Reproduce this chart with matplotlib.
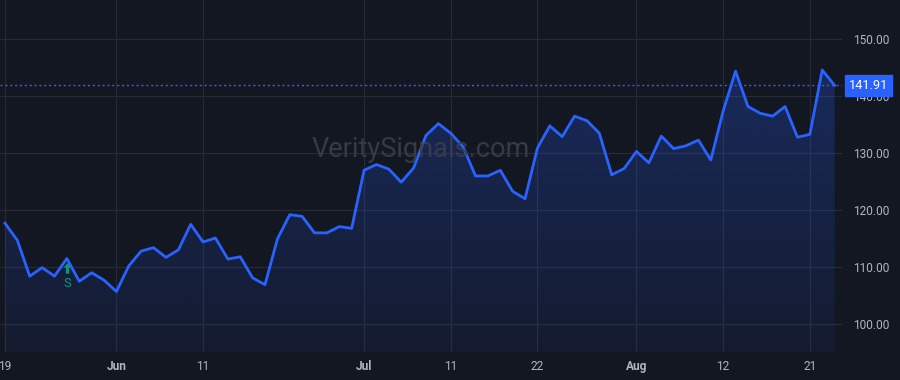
import numpy as np
import matplotlib
matplotlib.use("Agg")
import matplotlib.pyplot as plt
from matplotlib.path import Path

plt.rcParams["font.family"] = ["Roboto", "DejaVu Sans"]

# closing prices, one per trading day (19 May .. 25 Aug)
prices = [117.7, 114.7, 108.4, 109.9, 108.4, 111.5, 107.5, 109.0, 107.7, 105.7,
          110.2, 112.8, 113.4, 111.7, 113.0, 117.5, 114.4, 115.1, 111.4, 111.8,
          108.1, 106.9, 114.9, 119.2, 118.9, 116.0, 116.0, 117.1, 116.8, 127.0,
          128.0, 127.2, 124.9, 127.4, 133.1, 135.2, 133.5, 131.1, 126.0, 126.0,
          127.0, 123.3, 122.0, 130.9, 134.8, 132.9, 136.5, 135.7, 133.5, 126.2,
          127.3, 130.3, 128.3, 133.0, 130.8, 131.3, 132.3, 128.8, 137.4, 144.4,
          138.2, 137.0, 136.5, 138.2, 132.8, 133.3, 144.6, 141.91]
last_price = 141.91

# x tick labels and the trading-day index they sit on
tick_idx = [0, 9, 16, 29, 36, 43, 51, 58, 65]
tick_labels = ["19", "Jun", "11", "Jul", "11", "22", "Aug", "12", "21"]
y_ticks = [100, 110, 120, 130, 140, 150]

signal_idx = 5
signal_text = "S"

bg = "#131722"
grid = "#262b37"
blue = "#2962ff"
txt = "#b2b5be"
green = "#089981"

x = np.arange(len(prices))
y = np.array(prices)

fig = plt.figure(figsize=(9, 3.8), dpi=100, facecolor=bg)
ax = fig.add_axes([0, 0.074, 0.9356, 0.926])
ax.set_facecolor(bg)

ymin, ymax = 95.1, 156.9
ax.set_xlim(-0.4, 67.6)
ax.set_ylim(ymin, ymax)

# gradient under the line
grad = np.linspace(0.06, 0.26, 256).reshape(-1, 1)
rgba = np.zeros((256, 1, 4))
rgba[:, :, 0] = 41 / 255
rgba[:, :, 1] = 98 / 255
rgba[:, :, 2] = 1.0
rgba[:, :, 3] = grad
img = ax.imshow(rgba, aspect="auto", origin="lower",
                extent=[x[0], x[-1], ymin, y.max()], zorder=1)
poly = ax.fill_between(x, y, ymin, facecolor="none", edgecolor="none")
clip = poly.get_paths()[0]
img.set_clip_path(clip, transform=ax.transData)

ax.plot(x, y, color=blue, lw=2, zorder=3)

ax.axhline(last_price, color=blue, lw=1, ls=(0, (1.5, 2)), zorder=2)

ax.set_xticks(tick_idx)
ax.set_xticklabels(tick_labels)
for lab in ax.get_xticklabels():
    if lab.get_text() in ("Jun", "Jul", "Aug"):
        lab.set_fontweight("bold")
ax.set_yticks(y_ticks)
ax.set_yticklabels(["%.2f" % v for v in y_ticks])
ax.yaxis.tick_right()
ax.tick_params(axis="both", length=0, colors=txt, labelsize=8.6)
ax.tick_params(axis="x", pad=6)
ax.tick_params(axis="y", pad=8)
ax.grid(True, color=grid, lw=0.8)
ax.set_axisbelow(True)
for s in ax.spines.values():
    s.set_visible(False)

# last price tag
ax.annotate("%.2f" % last_price, xy=(1.0, last_price),
            xycoords=("axes fraction", "data"), xytext=(5, 0),
            textcoords="offset points", ha="left", va="center",
            color="white", fontsize=9.2,
            bbox=dict(boxstyle="square,pad=0.3", fc=blue, ec=blue),
            annotation_clip=False, zorder=6)

# buy signal marker: small up arrow with a stem
arrow = Path([(0, 1), (0.75, 0.2), (0.3, 0.2), (0.3, -1), (-0.3, -1),
              (-0.3, 0.2), (-0.75, 0.2), (0, 1)], closed=True)
ax.plot([signal_idx], [y[signal_idx] - 1.6], marker=arrow, markersize=7.5,
        color=green, markeredgewidth=0, zorder=5)
ax.text(signal_idx, y[signal_idx] - 4.4, signal_text, color=green,
        fontsize=9.2, ha="center", va="center", zorder=5)

# watermark
ax.text(0.5, 0.575, "VeritySignals.com", transform=ax.transAxes,
        color="#3a3e4a", fontsize=19.5, ha="center", va="center",
        alpha=0.9, zorder=4)

fig.savefig("out.png", dpi=100, facecolor=bg)
